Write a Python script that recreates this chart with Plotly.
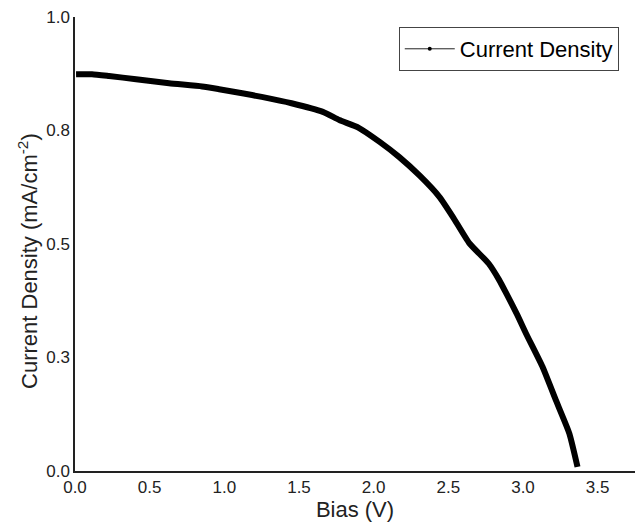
import plotly.graph_objects as go

bias_v = [0.007, 0.114, 0.228, 0.409, 0.63, 0.851, 0.965, 1.12, 1.25, 1.45, 1.66,
          1.77, 1.90, 2.04, 2.17, 2.31, 2.44, 2.53, 2.64, 2.77, 2.84, 2.89, 2.96,
          3.02, 3.13, 3.22, 3.31, 3.365]
current_density = [0.874, 0.874, 0.870, 0.863, 0.854, 0.847, 0.841, 0.832, 0.824, 0.810, 0.791,
                   0.773, 0.756, 0.725, 0.692, 0.650, 0.604, 0.560, 0.502, 0.457, 0.421, 0.390, 0.345,
                   0.303, 0.230, 0.156, 0.083, 0.009]

y_tick_vals = [0.0, 0.25, 0.5, 0.75, 1.0]
y_tick_text = ["0.0", "0.3", "0.5", "0.8", "1.0"]
x_tick_vals = [0.0, 0.5, 1.0, 1.5, 2.0, 2.5, 3.0, 3.5]
x_tick_text = ["0.0", "0.5", "1.0", "1.5", "2.0", "2.5", "3.0", "3.5"]

series_name = "Current Density"
x_title = "Bias (V)"
y_title = "Current Density (mA/cm<sup>-2</sup>)"

fig = go.Figure()
fig.add_trace(go.Scatter(
    x=bias_v, y=current_density, mode="lines",
    line=dict(color="black", width=6, shape="spline", smoothing=0.5),
    showlegend=False, name=series_name,
))
fig.add_trace(go.Scatter(
    x=[None], y=[None], mode="lines+markers", name=series_name,
    line=dict(color="#222222", width=1), marker=dict(color="black", size=4),
))

font_family = "Liberation Sans, Arial, sans-serif"
fig.update_layout(
    width=641, height=522,
    margin=dict(l=75, r=6, t=17, b=51),
    paper_bgcolor="white", plot_bgcolor="white",
    font=dict(family=font_family, color="#222222", size=17),
    legend=dict(
        x=0.971, y=0.978, xanchor="right", yanchor="top",
        bordercolor="#444444", borderwidth=1, bgcolor="white",
        font=dict(size=22, color="black"),
        itemwidth=50, tracegroupgap=0,
    ),
    xaxis=dict(
        range=[0, 3.75], tickvals=x_tick_vals, ticktext=x_tick_text,
        showgrid=False, zeroline=False, showline=True, linecolor="#222222", linewidth=1.5,
        ticks="", automargin=False,
        title=dict(text=x_title, font=dict(size=22), standoff=2),
        tickfont=dict(size=17),
    ),
    yaxis=dict(
        range=[0, 1.0], tickvals=y_tick_vals, ticktext=y_tick_text,
        showgrid=False, zeroline=False, showline=True, linecolor="#222222", linewidth=1.5,
        ticks="", automargin=False,
        tickfont=dict(size=17),
    ),
    annotations=[dict(
        text=y_title, textangle=-90, showarrow=False,
        xref="paper", yref="paper", x=0, y=0.4626, xanchor="center", yanchor="middle",
        xshift=-47, font=dict(size=22, color="#222222"),
    )],
)

fig.write_html(
    "out.html",
    config={"displayModeBar": False},
    post_script="document.body.style.margin='0';document.body.style.padding='0';",
)
